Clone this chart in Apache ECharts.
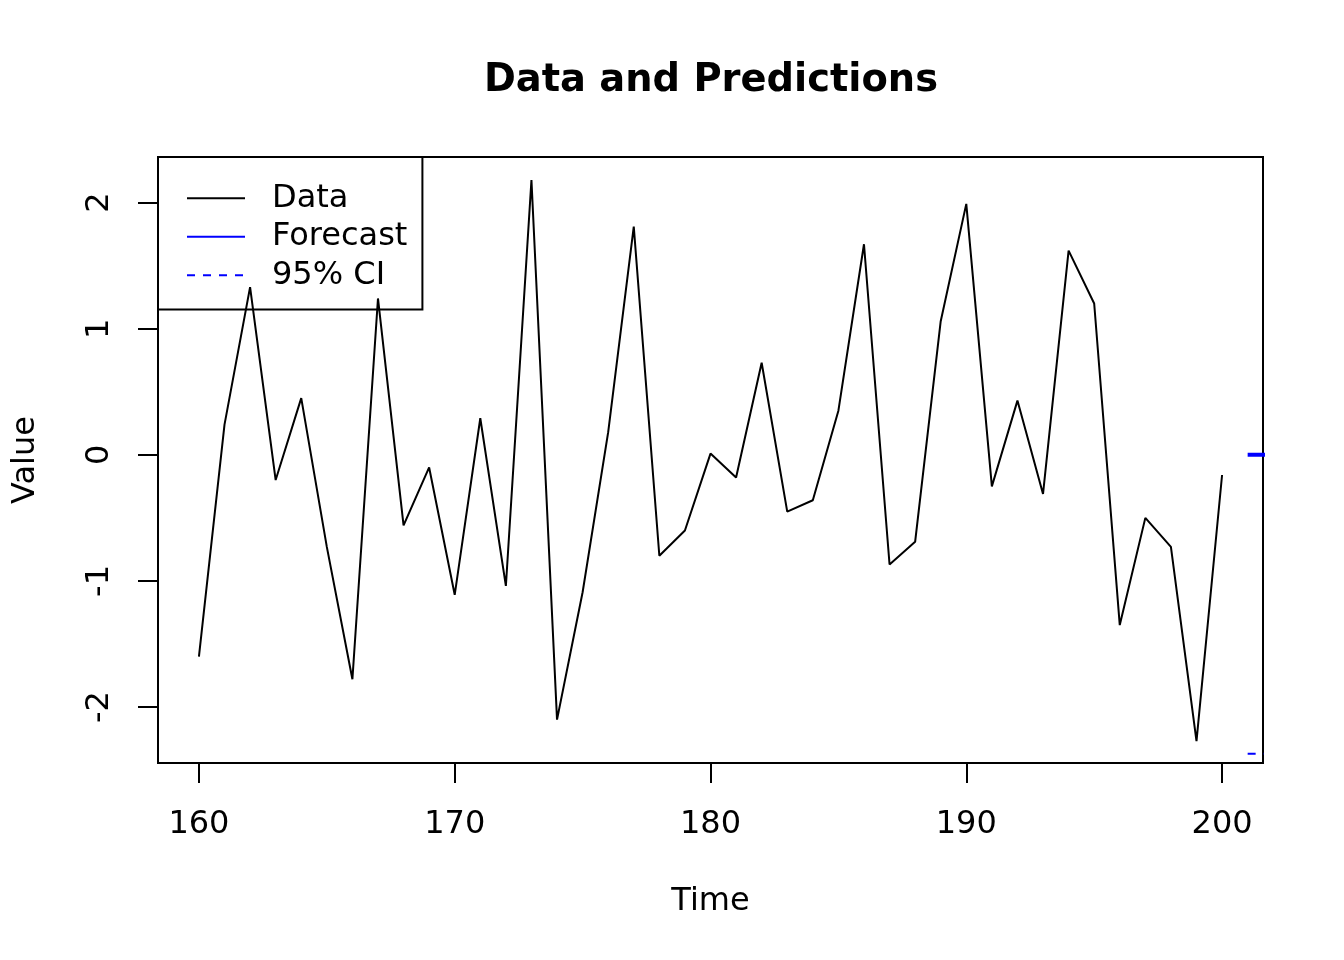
<!DOCTYPE html>
<html>
<head>
<meta charset="utf-8">
<script src="https://cdn.jsdelivr.net/npm/echarts@6/dist/echarts.min.js"></script>
<style>
html,body{margin:0;padding:0;background:#fff;}
#chart{width:1344px;height:960px;}
</style>
</head>
<body>
<div id="chart"></div>
<script>
var dataTime = [160,161,162,163,164,165,166,167,168,169,170,171,172,173,174,175,176,177,178,179,180,181,182,183,184,185,186,187,188,189,190,191,192,193,194,195,196,197,198,199,200];
var dataValues = [-1.60,0.24,1.33,-0.20,0.45,-0.73,-1.78,1.24,-0.56,-0.10,-1.11,0.29,-1.04,2.18,-2.10,-1.09,0.18,1.81,-0.80,-0.60,0.01,-0.18,0.73,-0.45,-0.36,0.35,1.67,-0.87,-0.69,1.06,1.99,-0.25,0.43,-0.31,1.62,1.20,-1.35,-0.50,-0.73,-2.27,-0.16];
var forecastTime = [201,202,203,204,205];
var forecastValues = [0,0,0,0,0];
var ciUpper = [2.38,2.38,2.38,2.38,2.38];
var ciLower = [-2.37,-2.37,-2.37,-2.37,-2.37];
var xTicks = [160,170,180,190,200];
var yTicks = [-2,-1,0,1,2];

function pairs(xs, ys){ return xs.map(function(x,i){ return [x, ys[i]]; }); }

var FONT = 'DejaVu Sans';
var chart = echarts.init(document.getElementById('chart'), null, {renderer:'canvas'});
chart.setOption({
  animation: false,
  backgroundColor: '#fff',
  title: {
    text: 'Data and Predictions',
    left: 706, textAlign: 'center',
    top: 57,
    textStyle: {fontFamily: FONT, fontSize: 38.4, fontWeight: 'bold', color: '#000'}
  },
  grid: {
    left: 158, top: 157, width: 1105, height: 606,
    show: true, borderColor: '#000', borderWidth: 2, backgroundColor: 'transparent'
  },
  legend: {
    orient: 'vertical',
    left: 158, top: 157,
    padding: [22, 15, 15, 28],
    borderColor: '#000', borderWidth: 2, borderRadius: 0,
    itemWidth: 58, itemHeight: 14, itemGap: 0,
    lineStyle: {width: 2},
    itemStyle: {opacity: 0},
    textStyle: {fontFamily: FONT, fontSize: 32, color: '#000', lineHeight: 38.5, padding: [0,0,0,22]},
    data: ['Data', 'Forecast', '95% CI']
  },
  xAxis: {
    type: 'value', min: 158.4, max: 201.6,
    name: 'Time', nameLocation: 'middle', nameGap: 123,
    nameTextStyle: {fontFamily: FONT, fontSize: 32, color: '#000'},
    axisLine: {show: false, onZero: false},
    axisTick: {show: true, customValues: xTicks, length: 20, lineStyle: {color: '#000', width: 2}},
    axisLabel: {customValues: xTicks, fontFamily: FONT, fontSize: 32, color: '#000', margin: 46},
    splitLine: {show: false}
  },
  yAxis: {
    type: 'value', min: -2.444, max: 2.362,
    name: 'Value', nameLocation: 'middle', nameGap: 116, nameRotate: 90,
    nameTextStyle: {fontFamily: FONT, fontSize: 32, color: '#000'},
    axisLine: {show: false, onZero: false},
    axisTick: {show: true, customValues: yTicks, length: 20, lineStyle: {color: '#000', width: 2}},
    axisLabel: {customValues: yTicks, rotate: 90, fontFamily: FONT, fontSize: 32, color: '#000', margin: 42},
    splitLine: {show: false}
  },
  series: [
    {name: 'Data', type: 'line', data: pairs(dataTime, dataValues), symbol: 'none',
     lineStyle: {color: '#000', width: 2}, itemStyle: {color: '#000'}},
    {name: 'Forecast', type: 'line', data: pairs(forecastTime, forecastValues), symbol: 'none',
     lineStyle: {color: '#0000ff', width: 4}, itemStyle: {color: '#0000ff'}},
    {name: '95% CI', type: 'line', data: pairs(forecastTime, ciUpper), symbol: 'none',
     lineStyle: {color: '#0000ff', width: 2, type: [8,8]}, itemStyle: {color: '#0000ff'}},
    {name: '95% CI', type: 'line', data: pairs(forecastTime, ciLower), symbol: 'none',
     lineStyle: {color: '#0000ff', width: 2, type: [8,8]}, itemStyle: {color: '#0000ff'}}
  ]
});
</script>
</body>
</html>
